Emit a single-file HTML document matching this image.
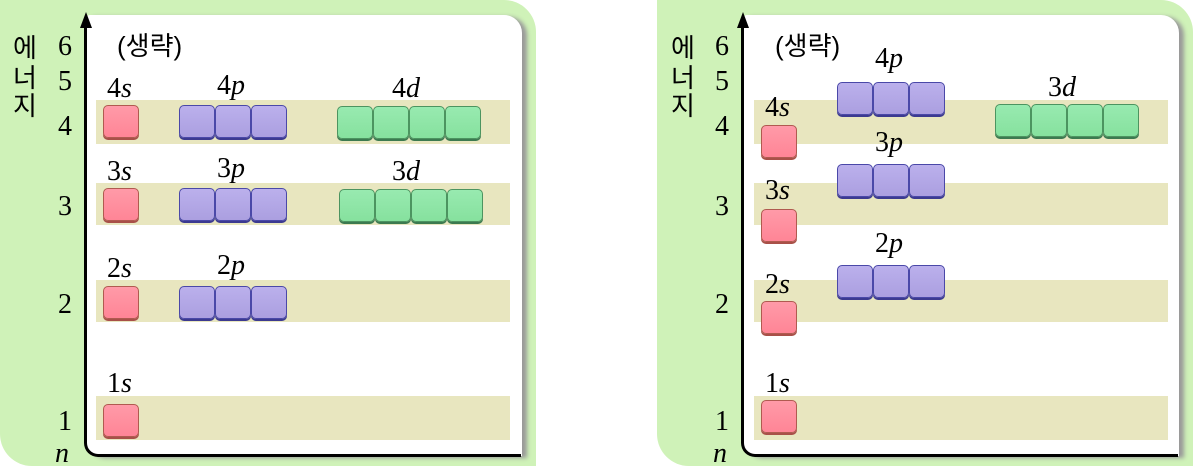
<!DOCTYPE html>
<html><head><meta charset="utf-8"><style>
body{margin:0;width:1193px;height:472px;background:#fff;position:relative;overflow:hidden;font-family:"Liberation Serif",serif;}
.g{position:absolute;top:0;width:536px;height:466px;background:#cff2b8;border-radius:0 32px 0 32px}
.w{position:absolute;top:15px;width:436px;height:441px;background:#fff;border-radius:4px 18px 0 14px;box-shadow:5px 2px 4px #999}
.ax{position:absolute;top:18px;width:434px;height:436px;border-left:3px solid #000;border-bottom:3px solid #000;border-bottom-left-radius:14px}
.tip{position:absolute;width:0;height:0;border-left:6px solid transparent;border-right:6px solid transparent;border-bottom:16px solid #000}
.band{position:absolute;height:44px;background:#e8e6bf}
.b{position:absolute;width:36px;height:33px;border-radius:5px;box-sizing:border-box}
.s{background:linear-gradient(#ff9aa8,#ff8596);border:1px solid #b05a50;box-shadow:0 2px 0 #a85048}
.p{background:linear-gradient(#bbb0ec,#ab9fe0);border:1px solid #4a48a8;box-shadow:0 2px 0 #3c3a90}
.d{background:linear-gradient(#98eab0,#86e19e);border:1px solid #4c9460;box-shadow:0 2px 0 #3c7a50}
.l{position:absolute;font-size:28px;line-height:28px}
.l i{font-style:italic}
.n{position:absolute;font-size:28px;line-height:28px}
.k{position:absolute;font-family:"Liberation Sans","Noto Sans CJK KR",sans-serif;font-size:26px;line-height:28px}
</style></head><body>
<div class="g" style="left:0"></div>
<div class="w" style="left:86px"></div>
<div class="ax" style="left:84px"></div>
<div class="tip" style="left:80px;top:12px"></div>
<div class="k" style="left:13px;top:34px">에</div>
<div class="k" style="left:13px;top:64px">너</div>
<div class="k" style="left:13px;top:92px">지</div>
<div class="n" style="left:58px;top:33px">6</div>
<div class="n" style="left:58px;top:68px">5</div>
<div class="n" style="left:58px;top:113px">4</div>
<div class="n" style="left:58px;top:193px">3</div>
<div class="n" style="left:58px;top:291px">2</div>
<div class="n" style="left:58px;top:408px">1</div>
<div class="n" style="left:55px;top:440px"><i>n</i></div>
<div class="k" style="left:117px;top:32px">(생략)</div>
<div class="band" style="left:96px;top:100px;width:414px"></div>
<div class="band" style="left:96px;top:183px;width:414px;height:42px"></div>
<div class="band" style="left:96px;top:280px;width:414px;height:42px"></div>
<div class="band" style="left:96px;top:396px;width:414px"></div>
<div class="l" style="left:107px;top:75px">4<i>s</i></div>
<div class="l" style="left:217px;top:72px">4<i>p</i></div>
<div class="l" style="left:392px;top:75px">4<i>d</i></div>
<div class="l" style="left:107px;top:158px">3<i>s</i></div>
<div class="l" style="left:217px;top:155px">3<i>p</i></div>
<div class="l" style="left:392px;top:158px">3<i>d</i></div>
<div class="l" style="left:107px;top:255px">2<i>s</i></div>
<div class="l" style="left:217px;top:252px">2<i>p</i></div>
<div class="l" style="left:107px;top:370px">1<i>s</i></div>
<div class="b s" style="left:103px;top:105px"></div>
<div class="b p" style="left:179px;top:105px"></div><div class="b p" style="left:215px;top:105px"></div><div class="b p" style="left:251px;top:105px"></div>
<div class="b d" style="left:337px;top:106px"></div><div class="b d" style="left:373px;top:106px"></div><div class="b d" style="left:409px;top:106px"></div><div class="b d" style="left:445px;top:106px"></div>
<div class="b s" style="left:103px;top:188px"></div>
<div class="b p" style="left:179px;top:188px"></div><div class="b p" style="left:215px;top:188px"></div><div class="b p" style="left:251px;top:188px"></div>
<div class="b d" style="left:339px;top:189px"></div><div class="b d" style="left:375px;top:189px"></div><div class="b d" style="left:411px;top:189px"></div><div class="b d" style="left:447px;top:189px"></div>
<div class="b s" style="left:103px;top:286px"></div>
<div class="b p" style="left:179px;top:286px"></div><div class="b p" style="left:215px;top:286px"></div><div class="b p" style="left:251px;top:286px"></div>
<div class="b s" style="left:103px;top:404px"></div>

<div class="g" style="left:657px"></div>
<div class="w" style="left:743px"></div>
<div class="ax" style="left:741px"></div>
<div class="tip" style="left:737px;top:12px"></div>
<div class="k" style="left:671px;top:34px">에</div>
<div class="k" style="left:671px;top:64px">너</div>
<div class="k" style="left:671px;top:92px">지</div>
<div class="n" style="left:715px;top:33px">6</div>
<div class="n" style="left:715px;top:68px">5</div>
<div class="n" style="left:715px;top:113px">4</div>
<div class="n" style="left:715px;top:193px">3</div>
<div class="n" style="left:715px;top:291px">2</div>
<div class="n" style="left:715px;top:408px">1</div>
<div class="n" style="left:713px;top:440px"><i>n</i></div>
<div class="k" style="left:775px;top:32px">(생략)</div>
<div class="band" style="left:754px;top:100px;width:414px"></div>
<div class="band" style="left:754px;top:183px;width:414px;height:42px"></div>
<div class="band" style="left:754px;top:280px;width:414px;height:42px"></div>
<div class="band" style="left:754px;top:396px;width:414px"></div>
<div class="l" style="left:765px;top:94px">4<i>s</i></div>
<div class="l" style="left:875px;top:45px">4<i>p</i></div>
<div class="l" style="left:1048px;top:74px">3<i>d</i></div>
<div class="l" style="left:875px;top:129px">3<i>p</i></div>
<div class="l" style="left:765px;top:177px">3<i>s</i></div>
<div class="l" style="left:875px;top:230px">2<i>p</i></div>
<div class="l" style="left:765px;top:271px">2<i>s</i></div>
<div class="l" style="left:765px;top:370px">1<i>s</i></div>
<div class="b s" style="left:761px;top:125px"></div>
<div class="b p" style="left:837px;top:82px"></div><div class="b p" style="left:873px;top:82px"></div><div class="b p" style="left:909px;top:82px"></div>
<div class="b d" style="left:995px;top:104px"></div><div class="b d" style="left:1031px;top:104px"></div><div class="b d" style="left:1067px;top:104px"></div><div class="b d" style="left:1103px;top:104px"></div>
<div class="b p" style="left:837px;top:164px"></div><div class="b p" style="left:873px;top:164px"></div><div class="b p" style="left:909px;top:164px"></div>
<div class="b s" style="left:761px;top:209px"></div>
<div class="b p" style="left:837px;top:265px"></div><div class="b p" style="left:873px;top:265px"></div><div class="b p" style="left:909px;top:265px"></div>
<div class="b s" style="left:761px;top:301px"></div>
<div class="b s" style="left:761px;top:400px"></div>
</body></html>
